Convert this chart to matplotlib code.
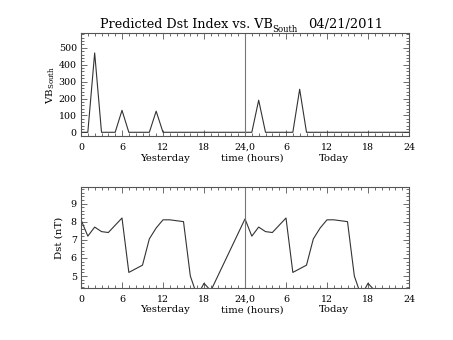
import matplotlib
matplotlib.use("Agg")
import matplotlib.pyplot as plt
from matplotlib.ticker import FixedLocator, MultipleLocator

# Southward solar-wind coupling (VB_South), hourly, yesterday 0-24 then today 24-48
vb_hours = [0, 1, 2, 3, 4, 5, 6, 7, 8, 9, 10, 11, 12, 13, 14, 15, 16, 17, 18, 19, 20,
            21, 22, 23, 24, 25, 26, 27, 28, 29, 30, 31, 32, 33, 34, 35, 36, 37, 38,
            39, 40, 41, 42, 43, 44, 45, 46, 47, 48]
vb_values = [0, 0, 470, 0, 0, 0, 130, 0, 0, 0, 0, 125, 0, 0, 0, 0, 0, 0, 0, 0, 0,
             0, 0, 0, 0, 0, 190, 0, 0, 0, 0, 0, 255, 0, 0, 0, 0, 0, 0,
             0, 0, 0, 0, 0, 0, 0, 0, 0, 0]

# Predicted Dst, hourly
dst_hours = [0, 1, 2, 3, 4, 5, 6, 7, 8, 9, 10, 11, 12, 13, 14, 15, 16, 17, 18, 19,
             24, 25, 26, 27, 28, 29, 30, 31, 32, 33, 34, 35, 36, 37, 38, 39, 40, 41, 42, 43]
dst_values = [8.10, 7.20, 7.70, 7.45, 7.40, 7.80, 8.20, 5.20, 5.40, 5.60, 7.05, 7.65, 8.10, 8.10, 8.05, 8.00, 5.00, 3.90, 4.60, 4.19,
              8.15, 7.20, 7.70, 7.45, 7.40, 7.80, 8.20, 5.20, 5.40, 5.60, 7.05, 7.65, 8.10, 8.10, 8.05, 8.00, 5.00, 3.90, 4.60, 4.19]

x_ticks = [0, 6, 12, 18, 24, 30, 36, 42, 48]
x_tick_labels = ["0", "6", "12", "18", "24,0", "6", "12", "18", "24"]
vb_ticks = [0, 100, 200, 300, 400, 500]
dst_ticks = [5, 6, 7, 8, 9]

title_main = "Predicted Dst Index vs. VB"
title_sub = "South"
title_date = "04/21/2011"

plt.rcParams["font.family"] = ["DejaVu Serif"]
plt.rcParams["mathtext.fontset"] = "dejavuserif"

W, H = 453, 340
fig = plt.figure(figsize=(W / 100, H / 100), dpi=100)

axis_col = "#555555"
line_col = "#333333"
fs = 6.8


def frac(x0, y0, x1, y1):
    return [x0 / W, 1 - y1 / H, (x1 - x0) / W, (y1 - y0) / H]


def style(ax, yticks, yminor):
    for s in ax.spines.values():
        s.set_color(axis_col)
        s.set_linewidth(0.8)
    ax.set_xlim(0, 48)
    ax.xaxis.set_major_locator(FixedLocator(x_ticks))
    ax.set_xticklabels(x_tick_labels)
    ax.xaxis.set_minor_locator(MultipleLocator(1))
    ax.yaxis.set_major_locator(FixedLocator(yticks))
    ax.yaxis.set_minor_locator(MultipleLocator(yminor))
    ax.tick_params(which="both", direction="in", top=True, right=True,
                   color=axis_col, labelsize=fs, width=0.6)
    ax.tick_params(which="major", length=4)
    ax.tick_params(axis="x", which="major", pad=5)
    ax.tick_params(axis="y", which="major", pad=3)
    ax.tick_params(which="minor", length=2)
    ax.text(12.3, -0.215, "Yesterday", transform=ax.get_xaxis_transform(),
            ha="center", va="center", fontsize=fs + 0.4)
    ax.text(25.0, -0.215, "time (hours)", transform=ax.get_xaxis_transform(),
            ha="center", va="center", fontsize=fs + 0.4)
    ax.text(37.0, -0.215, "Today", transform=ax.get_xaxis_transform(),
            ha="center", va="center", fontsize=fs + 0.4)


# Top panel: VB_South
ax1 = fig.add_axes(frac(81, 33, 409, 136))
ax1.plot(vb_hours, vb_values, color=line_col, lw=0.8)
ax1.axvline(24, color="#777777", lw=0.8)
ax1.set_ylim(-22, 588)
style(ax1, vb_ticks, 20)
ax1.set_ylabel("VB$_{\\mathrm{South}}$", fontsize=fs + 0.6, labelpad=1)

# Title pieces: main text, subscript, date
fig.text(100 / W, 1 - 28 / H, title_main, fontsize=9.2, ha="left", va="baseline")
fig.text(272 / W, 1 - 32 / H, title_sub, fontsize=6.2, ha="left", va="baseline")
fig.text(308 / W, 1 - 28 / H, title_date, fontsize=9.4, ha="left", va="baseline")

# Bottom panel: Dst
ax2 = fig.add_axes(frac(81, 187, 409, 288))
ax2.plot(dst_hours, dst_values, color=line_col, lw=0.8)
ax2.axvline(24, color="#777777", lw=0.8)
ax2.set_ylim(4.34, 9.91)
style(ax2, dst_ticks, 0.2)
ax2.set_ylabel("Dst (nT)", fontsize=fs + 0.6, labelpad=5)

fig.savefig("out.png", dpi=100)
